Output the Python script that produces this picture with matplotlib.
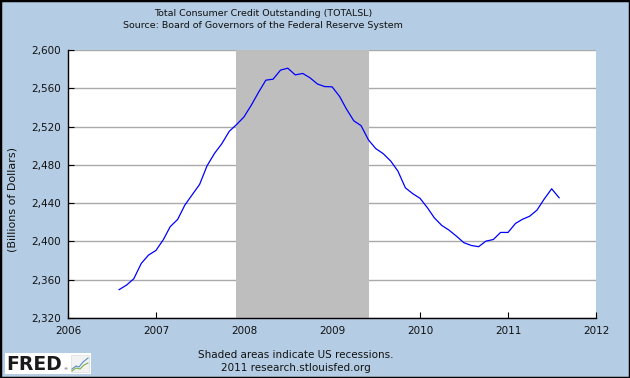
import matplotlib
matplotlib.use("Agg")
import matplotlib.pyplot as plt
import matplotlib.dates as mdates
import pandas as pd
from matplotlib.patches import Rectangle
from matplotlib.lines import Line2D

# ---- data (billions of dollars, monthly, Aug 2006 - Aug 2011) ----
start_month = "2006-08-01"
values = [
    2349.6, 2354.4, 2361.0, 2377.0, 2385.7, 2390.6, 2402.0, 2415.4, 2423.0, 2438.0,
    2449.0, 2459.5, 2479.0, 2492.0, 2502.0, 2515.0, 2522.0, 2530.0, 2542.5, 2555.5,
    2568.5, 2569.5, 2579.0, 2581.0, 2574.0, 2575.5, 2571.0, 2564.5, 2561.8, 2561.5,
    2551.5, 2538.5, 2526.0, 2521.0, 2506.0, 2497.0, 2491.7, 2484.0, 2473.5, 2456.0,
    2450.0, 2445.0, 2435.0, 2424.7, 2416.7, 2411.8, 2405.5, 2398.8, 2395.8, 2394.5,
    2400.3, 2402.0, 2409.4, 2409.4, 2418.8, 2423.0, 2426.4, 2432.7, 2444.6, 2455.0,
    2445.6,
]
recession_start = "2007-12-01"
recession_end = "2009-06-01"
year_ticks = [2006, 2007, 2008, 2009, 2010, 2011, 2012]
y_ticks = [2320, 2360, 2400, 2440, 2480, 2520, 2560, 2600]
title_line1 = "Total Consumer Credit Outstanding (TOTALSL)"
title_line2 = "Source: Board of Governors of the Federal Reserve System"
y_label = "(Billions of Dollars)"
footer1 = "Shaded areas indicate US recessions."
footer2 = "2011 research.stlouisfed.org"

dates = pd.date_range(start_month, periods=len(values), freq="MS")

W, H = 630, 378
BG = "#B4CDE4"
fig = plt.figure(figsize=(W / 100, H / 100), dpi=100, facecolor=BG)

def fx(px):
    return px / W

def fy(py):
    return 1 - py / H

ax = fig.add_axes([fx(68), fy(318), fx(596) - fx(68), fy(50) - fy(318)])
ax.set_facecolor("white")

# gridlines
for v in y_ticks:
    ax.axhline(v, color="#AAAAAA", lw=1.0, zorder=1)

ax.axvspan(pd.Timestamp(recession_start), pd.Timestamp(recession_end),
           color="#BEBEBE", lw=0, zorder=2)

ax.plot(dates, values, color="#0000FF", lw=0.9, zorder=3)

ax.set_xlim(pd.Timestamp(f"{year_ticks[0]}-01-01"), pd.Timestamp(f"{year_ticks[-1]}-01-01"))
ax.set_ylim(y_ticks[0], y_ticks[-1])

ax.set_xticks([pd.Timestamp(f"{y}-01-01") for y in year_ticks])
ax.set_xticklabels([str(y) for y in year_ticks])
ax.set_yticks(y_ticks)
ax.set_yticklabels([f"{v:,}" for v in y_ticks])

for s in ["top", "right"]:
    ax.spines[s].set_visible(False)
for s in ["left", "bottom"]:
    ax.spines[s].set_color("black")
    ax.spines[s].set_linewidth(1.0)
    ax.spines[s].set_zorder(4)

ax.tick_params(axis="both", direction="in", length=4, width=0.8, color="black",
               labelsize=7.5, labelcolor="#111111")
ax.tick_params(axis="x", pad=6)
ax.tick_params(axis="y", pad=5)

fs = 7.5
tfs = 6.8
fig.text(fx(263), fy(14), title_line1, ha="center", va="center", fontsize=tfs, color="#111111")
fig.text(fx(263), fy(26), title_line2, ha="center", va="center", fontsize=tfs, color="#111111")
fig.text(fx(12.5), fy(200), y_label, ha="center", va="center", rotation=90, fontsize=8, color="#111111")
fig.text(fx(296), fy(355), footer1, ha="center", va="center", fontsize=fs, color="#111111")
fig.text(fx(296), fy(368), footer2, ha="center", va="center", fontsize=fs, color="#111111")

# FRED logo
fig.patches.append(Rectangle((fx(5), fy(374)), fx(91) - fx(5), fy(353) - fy(374),
                             transform=fig.transFigure, facecolor="white", edgecolor="none", zorder=5))
fig.text(fx(6), fy(364), "FRED", ha="left", va="center", fontsize=13.5, fontweight="black",
         color="#1a1a1a", family="DejaVu Sans", zorder=6)
fig.text(fx(63), fy(369), "®", ha="left", va="center", fontsize=3, color="#1a1a1a", zorder=6)
fig.patches.append(Rectangle((fx(71), fy(372)), fx(89) - fx(71), fy(355) - fy(372),
                             transform=fig.transFigure, facecolor="#F2F2F2", edgecolor="#DDDDDD", lw=0.5, zorder=6))
fig.lines.append(Line2D([fx(72), fx(76), fx(79), fx(83), fx(88)],
                        [fy(369), fy(366), fy(367), fy(362), fy(358)],
                        transform=fig.transFigure, color="#5B8FC8", lw=0.8, zorder=7))
fig.lines.append(Line2D([fx(72), fx(76), fx(80), fx(84), fx(88)],
                        [fy(371), fy(368), fy(369), fy(365), fy(363)],
                        transform=fig.transFigure, color="#7DB04A", lw=0.8, zorder=7))

# figure border
fig.patches.append(Rectangle((0, 0), 1, 1, transform=fig.transFigure, fill=False,
                             edgecolor="black", lw=2.5, zorder=10))

fig.savefig("out.png", dpi=100, facecolor=BG)
